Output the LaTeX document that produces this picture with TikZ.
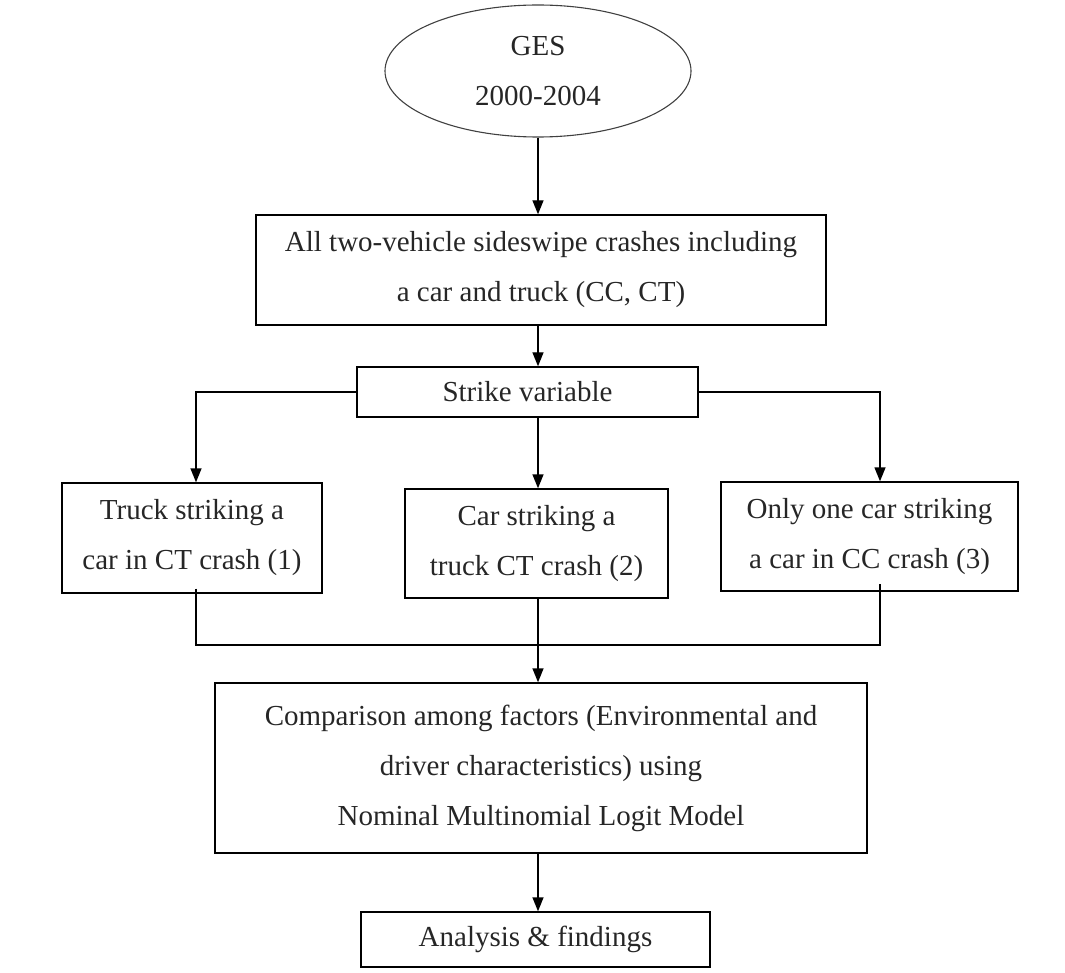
\documentclass[tikz,border=0pt]{standalone}
\usepackage{fontspec}
\setmainfont{Liberation Serif}
\usetikzlibrary{arrows.meta,shapes.geometric}
\begin{document}
\begin{tikzpicture}[x=1pt,y=-1pt,
  box/.style={draw=black, line width=1.4pt, inner sep=0pt, align=center,
    font=\fontsize{29}{50}\selectfont, text=black!85},
  flow/.style={line width=1.4pt, -{Triangle[width=11pt,length=14pt]}},
  link/.style={line width=1.4pt}]
\useasboundingbox (0,0) rectangle (1065,973);

% data source
\node[box, ellipse, draw=black!75, line width=1.1pt, minimum width=306pt, minimum height=132pt] (ges) at (538,71) {GES\\2000-2004};

% selection and classification
\node[box, minimum width=570pt, minimum height=110pt] (all) at (541,270)
  {All two-vehicle sideswipe crashes including\\a car and truck (CC, CT)};
\node[box, minimum width=341pt, minimum height=50pt] (strike) at (527.5,392) {Strike variable};

\node[box, minimum width=260pt, minimum height=110pt] (tl) at (192,538)
  {Truck striking a\\car in CT crash (1)};
\node[box, minimum width=263pt, minimum height=109pt] (cm) at (536.5,543.5)
  {Car striking a\\truck CT crash (2)};
\node[box, minimum width=297pt, minimum height=109pt] (or) at (869.5,536.5)
  {Only one car striking\\a car in CC crash (3)};

% modelling and results
\node[box, minimum width=652pt, minimum height=170pt] (cmp) at (541,768)
  {Comparison among factors (Environmental and\\driver characteristics) using\\Nominal Multinomial Logit Model};
\node[box, minimum width=349pt, minimum height=55pt] (fin) at (535.5,939.5) {Analysis \& findings};

% branch columns and merge level
\coordinate (lx) at (196,0);
\coordinate (rx) at (880,0);
\coordinate (m) at (538,645);

% connectors
\draw[flow] (ges.south) -- (ges.south |- all.north);
\draw[flow] (ges.south |- all.south) -- (ges.south |- strike.north);
\draw[flow] (strike.west) -| (lx |- tl.north);
\draw[flow] (strike.east) -| (rx |- or.north);
\draw[flow] (ges.south |- strike.south) -- (ges.south |- cm.north);
\draw[link] ([yshift=5pt]lx |- tl.south) -- (lx |- m) -- (rx |- m) -- ([yshift=8pt]rx |- or.south);
\draw[flow] (ges.south |- cm.south) -- (ges.south |- cmp.north);
\draw[flow] (ges.south |- cmp.south) -- (ges.south |- fin.north);
\end{tikzpicture}
\end{document}
